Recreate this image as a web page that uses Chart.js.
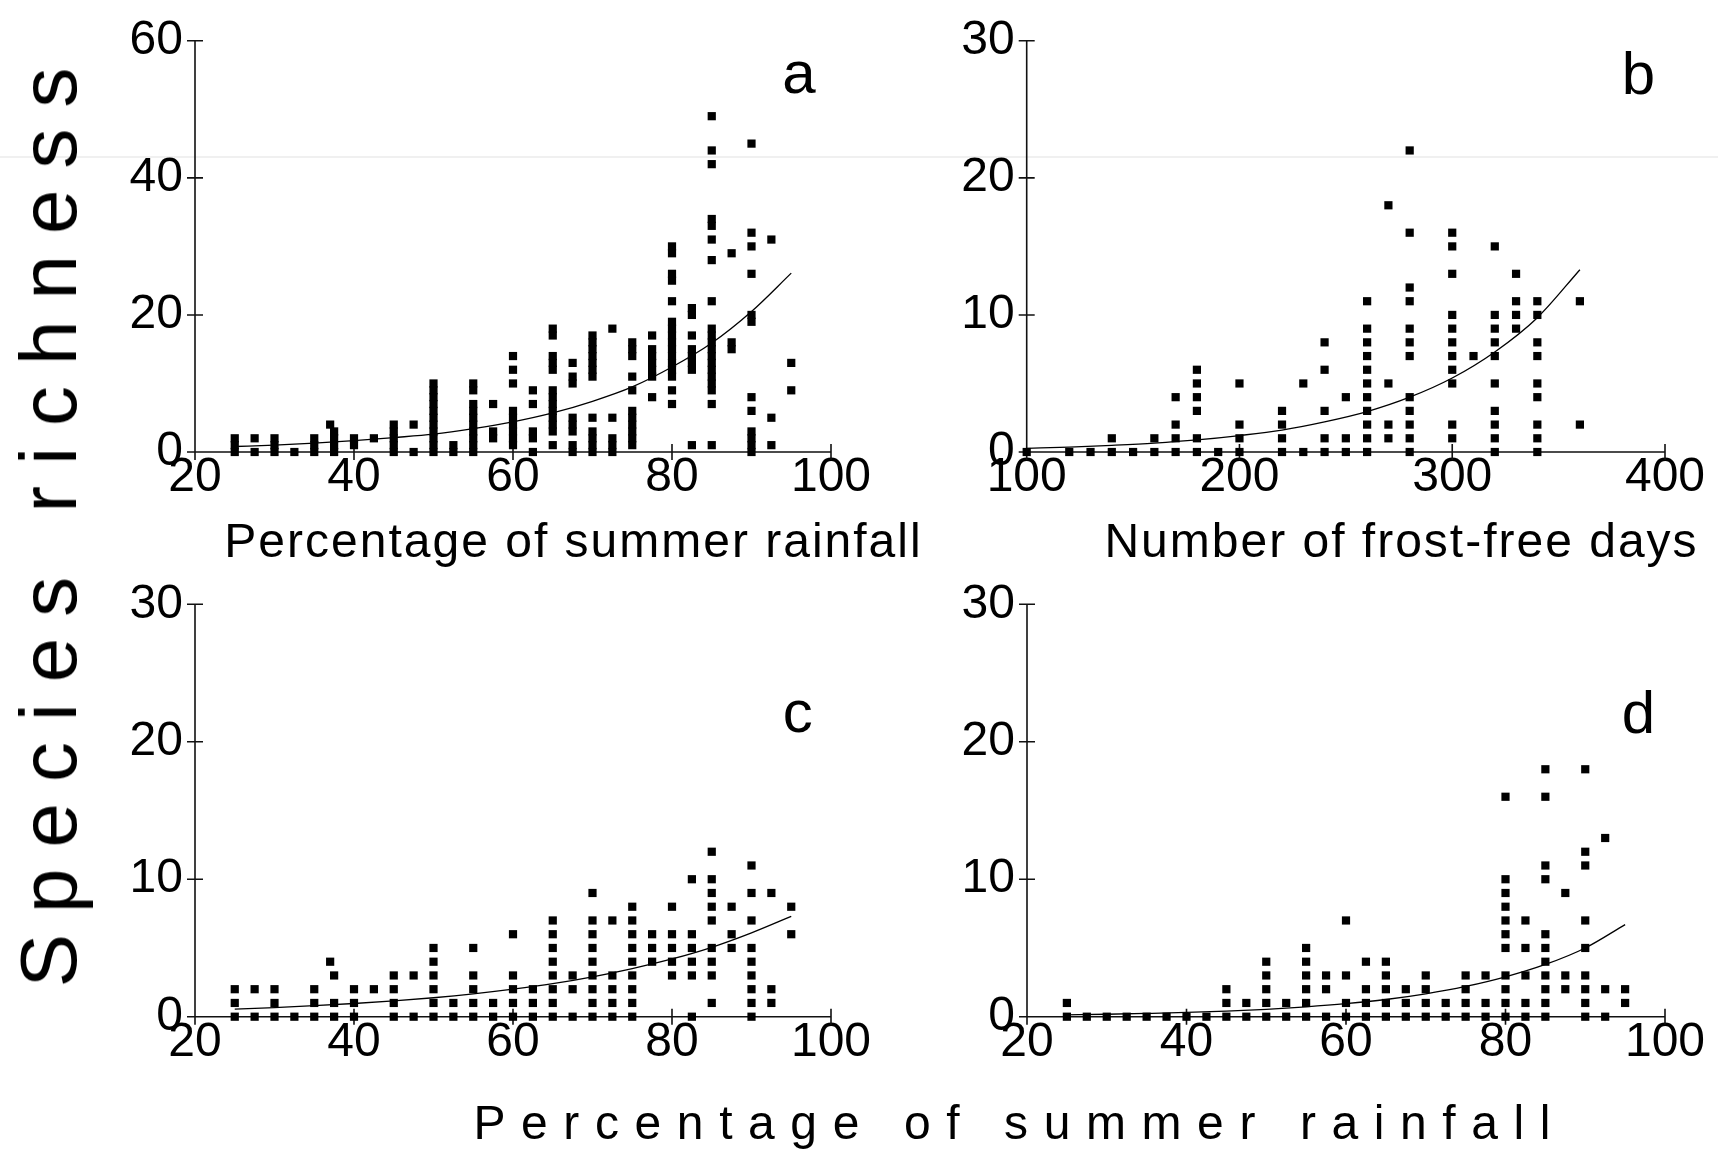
<!DOCTYPE html>
<html>
<head>
<meta charset="utf-8">
<script src="https://cdn.jsdelivr.net/npm/chart.js@4.4.0/dist/chart.umd.min.js"></script>
<style>
html,body{margin:0;padding:0;background:#fff;}
#wrap{position:relative;width:1718px;height:1152px;overflow:hidden;background:#fff;font-family:'Liberation Sans',Arial,sans-serif;color:#000;}
#wrap canvas{position:absolute;left:0;top:0;}
.t{position:absolute;white-space:nowrap;line-height:1;color:#000;}
#artifact{position:absolute;left:0;top:156px;width:1718px;height:2px;background:#f0f0f0;}
</style>
</head>
<body>
<div id="wrap">
  <div id="artifact"></div>
  <canvas id="ca" width="1718" height="1152" style="width:1718px;height:1152px"></canvas>
  <canvas id="cb" width="1718" height="1152" style="width:1718px;height:1152px"></canvas>
  <canvas id="cc" width="1718" height="1152" style="width:1718px;height:1152px"></canvas>
  <canvas id="cd" width="1718" height="1152" style="width:1718px;height:1152px"></canvas>
  <div class="t" style="left:573.5px;top:517.4px;font-size:48px;letter-spacing:2px;transform:translateX(-50%);">Percentage of summer rainfall</div>
  <div class="t" style="left:1401.5px;top:517.4px;font-size:48px;letter-spacing:2px;transform:translateX(-50%);">Number of frost-free days</div>
  <div class="t" style="left:1019.8px;top:1098.9px;font-size:48px;letter-spacing:15.6px;transform:translateX(-50%);">Percentage of summer rainfall</div>
  <div class="t" style="left:49.3px;top:516.5px;font-size:80px;letter-spacing:21px;transform:translate(-50%,-50%) rotate(-90deg);">Species richness</div>
  <div class="t" style="left:799px;top:42.5px;font-size:60px;transform:translateX(-50%);">a</div>
  <div class="t" style="left:1638.5px;top:44.2px;font-size:60px;transform:translateX(-50%);">b</div>
  <div class="t" style="left:797.7px;top:681.9px;font-size:60px;transform:translateX(-50%);">c</div>
  <div class="t" style="left:1638.5px;top:683.2px;font-size:60px;transform:translateX(-50%);">d</div>
</div>
<script>
// ---------- DATA ----------
// Panel a: species richness vs percentage of summer rainfall
const aX = [25, 27.5, 30, 32.5, 35, 37, 37.5, 40, 42.5, 45, 47.5, 50, 52.5, 55, 57.5, 60, 62.5, 65, 67.5, 70, 72.5, 75, 77.5, 80, 82.5, 85, 87.5, 90, 92.5, 95];
const aY = [
  [0,1,2], [0,2], [0,1,2], [0], [0,1,2], [4], [0,1,2,3], [1,2], [2], [0,1,2,3,4], [0,4],
  [0,1,2,3,4,5,6,7,8,9,10], [0,1], [0,1,2,3,4,5,6,7,9,10], [2,3,7], [1,2,3,4,5,6,10,12,14],
  [0,2,3,7,9], [1,3,4,5,6,7,8,9,12,13,14,17,18], [0,1,3,4,5,10,11,13],
  [0,1,2,3,5,11,12,13,14,15,16,17], [0,1,2,5,18], [1,2,3,4,5,6,9,11,14,15,16],
  [8,11,12,13,14,15,17], [7,9,11,12,13,14,15,16,17,18,19,22,25,26,29,30],
  [1,12,13,14,15,17,20,21], [1,7,9,10,11,12,13,14,15,16,17,18,22,28,31,33,34,42,44,49],
  [15,16,29], [0,1,2,3,6,8,19,20,26,30,32,45], [1,5,31], [9,13]
];
const aCurveX = [25, 30, 35, 40, 45, 50, 55, 60, 65, 70, 75, 80, 85, 90, 95];
const aCurveY = [0.8, 1.0, 1.3, 1.65, 2.1, 2.6, 3.4, 4.4, 5.7, 7.4, 9.5, 12.4, 15.9, 20.5, 26.1];

// Panel b: species richness vs number of frost-free days
const bX = [100, 120, 130, 140, 150, 160, 170, 180, 190, 200, 220, 230, 240, 250, 260, 270, 280, 300, 310, 320, 330, 340, 360];
const bY = [
  [0], [0], [0], [0,1], [0], [0,1], [0,1,2,4], [0,1,3,4,5,6], [0], [0,1,2,5], [0,1,2,3], [0,5],
  [0,1,3,6,8], [0,1,4], [0,1,2,3,4,5,6,7,8,9,11], [1,2,5,18], [0,1,2,3,4,7,8,9,11,12,16,22],
  [1,2,5,6,7,8,9,10,13,15,16], [7], [0,1,2,3,5,7,8,9,10,15], [9,10,11,13], [0,1,2,4,5,7,8,10,11], [2,11]
];
const bCurveX = [100, 120, 140, 160, 180, 200, 220, 240, 260, 280, 300, 320, 340, 360];
const bCurveY = [0.27, 0.36, 0.49, 0.65, 0.88, 1.2, 1.6, 2.2, 2.95, 4.0, 5.4, 7.3, 9.8, 13.3];

// Panel c: species richness vs percentage of summer rainfall
const cX = [25, 27.5, 30, 32.5, 35, 37, 37.5, 40, 42.5, 45, 47.5, 50, 52.5, 55, 57.5, 60, 62.5, 65, 67.5, 70, 72.5, 75, 77.5, 80, 82.5, 85, 87.5, 90, 92.5, 95];
const cY = [
  [0,1,2], [0,2], [0,1,2], [0], [0,1,2], [4], [0,1,3], [0,1,2], [2], [0,1,2,3], [0,3],
  [0,1,2,3,4,5], [0,1], [0,1,2,3,5], [0,1], [0,1,2,3,6], [0,1,2], [0,1,2,3,4,5,6,7], [0,2,3],
  [0,1,2,3,4,5,6,7,9], [0,1,2,3,7], [0,1,2,3,4,5,6,7,8], [4,5,6], [3,4,5,6,8], [0,3,4,5,6,10],
  [1,3,4,5,7,8,9,10,12], [5,6,8], [0,1,2,3,4,5,7,9,11], [1,2,9], [6,8]
];
const cCurveX = [25, 30, 35, 40, 45, 50, 55, 60, 65, 70, 75, 80, 85, 90, 95];
const cCurveY = [0.55, 0.66, 0.8, 0.96, 1.15, 1.38, 1.66, 2.0, 2.4, 2.9, 3.5, 4.2, 5.05, 6.1, 7.3];

// Panel d: species richness vs percentage of summer rainfall
const dX = [25, 27.5, 30, 32.5, 35, 37.5, 40, 42.5, 45, 47.5, 50, 52.5, 55, 57.5, 60, 62.5, 65, 67.5, 70, 72.5, 75, 77.5, 80, 82.5, 85, 87.5, 90, 92.5, 95];
const dY = [
  [0,1], [0], [0], [0], [0], [0], [0], [0], [0,1,2], [0,1], [0,1,2,3,4], [0,1], [0,1,2,3,4,5],
  [0,2,3], [0,1,3,7], [0,1,2,4], [0,1,2,3,4], [0,1,2], [0,1,2,3], [0,1], [0,1,2,3], [0,1,3],
  [0,1,2,3,5,6,7,8,9,10,16], [0,1,3,5,7], [0,1,2,3,4,5,6,10,11,16,18], [2,3,9],
  [0,1,2,3,5,7,11,12,18], [0,2,13], [1,2]
];
const dCurveX = [25, 30, 35, 40, 45, 50, 55, 60, 65, 70, 75, 80, 85, 90, 95];
const dCurveY = [0.13, 0.18, 0.24, 0.31, 0.41, 0.54, 0.72, 0.95, 1.25, 1.66, 2.2, 2.9, 3.8, 5.0, 6.7];

// Axis ranges and tick steps
const rainTicks = {min: 20, max: 100, step: 20};
const frostTicks = {min: 100, max: 400, step: 100};
const yTicksA = {min: 0, max: 60, step: 20};
const yTicks30 = {min: 0, max: 30, step: 10};

// ---------- RENDERING ----------
const FONT = "'Liberation Sans', Arial, sans-serif";
const TICK_SIZE = 48;
const W = 1718, H = 1152;

function toPoints(xs, cols) {
  const pts = [];
  xs.forEach((x, i) => cols[i].forEach(v => pts.push({x: x, y: v})));
  return pts;
}
function toLine(xs, ys) { return xs.map((x, i) => ({x: x, y: ys[i]})); }

const crossAxes = {
  id: 'crossAxes',
  beforeDatasetsDraw(chart) {
    const {ctx} = chart;
    const xs = chart.scales.x, ys = chart.scales.y;
    const x0 = xs.getPixelForValue(xs.min), x1 = xs.getPixelForValue(xs.max);
    const y0 = ys.getPixelForValue(ys.min), y1 = ys.getPixelForValue(ys.max);
    ctx.save();
    ctx.strokeStyle = '#111';
    ctx.lineWidth = 1.6;
    ctx.beginPath();
    ctx.moveTo(x0, y0); ctx.lineTo(x1, y0);
    ctx.moveTo(x0, y0); ctx.lineTo(x0, y1);
    xs.ticks.forEach(t => { const p = xs.getPixelForValue(t.value); ctx.moveTo(p, y0 - 8); ctx.lineTo(p, y0 + 8); });
    ys.ticks.forEach(t => { const p = ys.getPixelForValue(t.value); ctx.moveTo(x0 - 8, p); ctx.lineTo(x0 + 8, p); });
    ctx.stroke();
    ctx.restore();
  }
};

function makeChart(id, xr, yr, pts, line, area, xh) {
  const padding = {
    left: area.left - 100,
    right: W - area.right,
    top: area.top,
    bottom: H - area.bottom - xh
  };
  return new Chart(document.getElementById(id), {
    type: 'scatter',
    data: {
      datasets: [
        {data: pts, pointStyle: 'rect', pointRadius: 5.8, pointHoverRadius: 5.8, borderWidth: 0,
         backgroundColor: '#000', borderColor: '#000', clip: false},
        {data: line, showLine: true, pointRadius: 0, pointHoverRadius: 0, borderColor: '#000',
         borderWidth: 1.3, fill: false, cubicInterpolationMode: 'monotone', clip: false}
      ]
    },
    options: {
      responsive: false,
      animation: false,
      devicePixelRatio: 1,
      events: [],
      layout: {padding: padding},
      plugins: {legend: {display: false}, tooltip: {enabled: false}, title: {display: false}},
      scales: {
        x: {
          type: 'linear', min: xr.min, max: xr.max,
          ticks: {stepSize: xr.step, padding: -3, color: '#000', maxRotation: 0, autoSkip: false,
                  font: {family: FONT, size: TICK_SIZE}},
          grid: {display: false, drawTicks: false},
          border: {display: false},
          afterFit(s) { s.height = xh; }
        },
        y: {
          type: 'linear', min: yr.min, max: yr.max,
          ticks: {stepSize: yr.step, padding: 12, color: '#000', autoSkip: false,
                  font: {family: FONT, size: TICK_SIZE}},
          grid: {display: false, drawTicks: false},
          border: {display: false},
          afterFit(s) { s.width = 100; }
        }
      }
    },
    plugins: [crossAxes]
  });
}

makeChart('ca', rainTicks, yTicksA, toPoints(aX, aY), toLine(aCurveX, aCurveY),
  {left: 195, right: 831, top: 39.3, bottom: 452}, 120);
makeChart('cb', frostTicks, yTicks30, toPoints(bX, bY), toLine(bCurveX, bCurveY),
  {left: 1026.7, right: 1665, top: 39.3, bottom: 452}, 120);
makeChart('cc', rainTicks, yTicks30, toPoints(cX, cY), toLine(cCurveX, cCurveY),
  {left: 195, right: 831, top: 604.3, bottom: 1016.7}, 60);
makeChart('cd', rainTicks, yTicks30, toPoints(dX, dY), toLine(dCurveX, dCurveY),
  {left: 1027, right: 1665, top: 604.3, bottom: 1016.7}, 60);
</script>
</body>
</html>
